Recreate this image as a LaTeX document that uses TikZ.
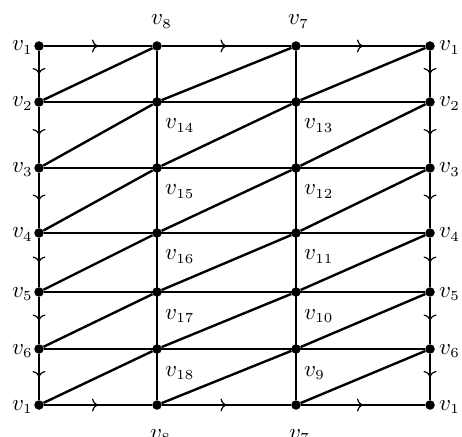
\documentclass[tikz,border=0pt]{standalone}
\usetikzlibrary{arrows.meta,decorations.markings}
\DeclareMathSizes{10}{10}{6}{5}
\newcommand{\vl}[1]{\scalebox{2.3}{$v_{#1}$}}
\begin{document}
\begin{tikzpicture}[x=1pt,y=1pt,
  edge/.style={line width=2.4pt},
  dotnode/.style={circle,fill=black,inner sep=0pt,minimum size=9.5pt},
  lab/.style={inner sep=0pt},
  arr/.style={postaction={decorate},decoration={markings,mark=at position 0.5 with {\arrow{Computer Modern Rightarrow[length=6pt,width=13pt,line width=1.2pt]}}}}]
\useasboundingbox (0,0) rectangle (462,436);
% vertices
\foreach \c/\x in {0/39,1/157,2/296,3/430}
  \foreach \r/\y in {0/390,1/334,2/268,3/203,4/144,5/87,6/31}
    \node[dotnode] (n\c\r) at (\x,\y) {};
% arrowed boundary
\foreach \a/\b in {0/1,1/2,2/3}{
  \draw[edge,arr] (n\a0) -- (n\b0);
  \draw[edge,arr] (n\a6) -- (n\b6);
}
\foreach \a/\b in {0/1,1/2,2/3,3/4,4/5,5/6}{
  \draw[edge,arr] (n0\a) -- (n0\b);
  \draw[edge,arr] (n3\a) -- (n3\b);
}
% interior lines
\draw[edge] (n10) -- (n16);
\draw[edge] (n20) -- (n26);
\foreach \r in {1,...,5}
  \draw[edge] (n0\r) -- (n3\r);
% diagonals
\foreach \c/\cc in {0/1,1/2,2/3}
  \foreach \r/\rr in {0/1,1/2,2/3,3/4,4/5,5/6}
    \draw[edge] (n\c\rr) -- (n\cc\r);
% labels left and right
\foreach \r/\k in {0/1,1/2,2/3,3/4,4/5,5/6,6/1}{
  \node[lab,anchor=base east] (l\r) at ([xshift=-6pt,yshift=-5pt]n0\r.center) {\vl{\k}};
  \node[lab,anchor=base west] (r\r) at ([xshift=9pt,yshift=-5pt]n3\r.center) {\vl{\k}};
}
% top and bottom
\node[lab,anchor=base west] (t1) at ([xshift=-6pt,yshift=21pt]n10.center) {\vl{8}};
\node[lab,anchor=base west] (t2) at ([xshift=-8pt,yshift=21pt]n20.center) {\vl{7}};
\node[lab,anchor=base west] (b1) at ([xshift=-7pt,yshift=-34pt]n16.center) {\vl{8}};
\node[lab,anchor=base west] (b2) at ([xshift=-7pt,yshift=-34pt]n26.center) {\vl{7}};
% interior labels
\foreach \r/\k in {1/14,2/15,3/16,4/17,5/18}
  \node[lab,anchor=base west] (a\r) at ([xshift=8pt,yshift=-27pt]n1\r.center) {\vl{\k}};
\foreach \r/\k in {1/13,2/12,3/11,4/10,5/9}
  \node[lab,anchor=base west] (c\r) at ([xshift=8pt,yshift=-27pt]n2\r.center) {\vl{\k}};
\end{tikzpicture}
\end{document}
